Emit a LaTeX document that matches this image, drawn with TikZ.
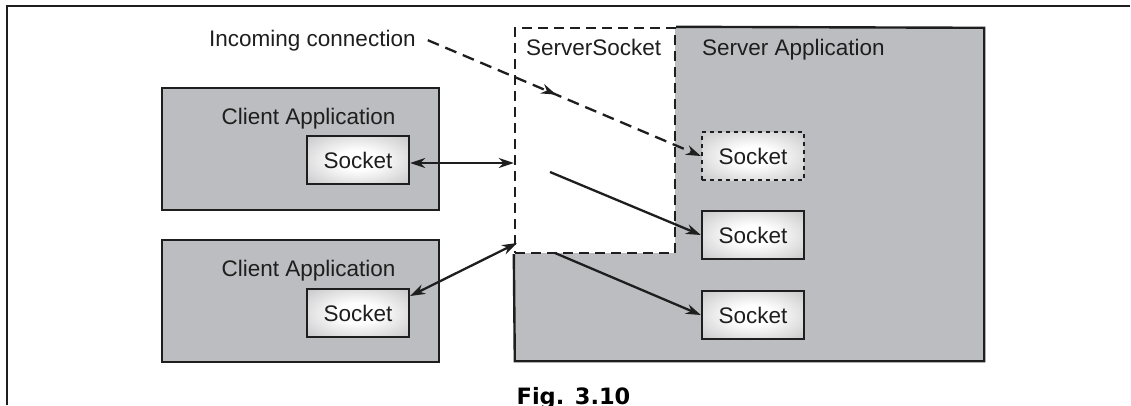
\documentclass[tikz,border=0pt]{standalone}
\usepackage{fontspec}
\setmainfont{Liberation Sans}
\newfontfamily\figfont{DejaVu Sans}
\usetikzlibrary{arrows.meta,decorations.markings}

\definecolor{appgray}{RGB}{188,189,193}
\definecolor{ink}{RGB}{30,30,30}
\definecolor{sockedge}{RGB}{168,168,171}

% soft white-centred glow for the socket boxes
\pgfdeclareradialshading{sockglow}{\pgfpoint{0bp}{0bp}}{%
  color(0bp)=(white); color(10bp)=(white); color(50bp)=(sockedge)}

\tikzset{
  txt/.style={inner sep=0pt, text=ink, font=\fontsize{22.5}{27}\selectfont},
  appbox/.style={draw=ink, line width=2.4pt, fill=appgray, inner sep=0pt},
  sockbox/.style={draw=ink, line width=2.4pt, shading=sockglow,
    minimum width=102pt, minimum height=48pt, inner sep=0pt, text=ink,
    font=\fontsize{22.5}{27}\selectfont},
  sk/.tip={Stealth[length=15pt, width=10pt]},
  conn/.style={draw=ink, line width=2.3pt},
  midarrow/.style={postaction={decorate}, decoration={markings,
    mark=at position #1 with {\arrow[ink]{Stealth[length=15pt, width=10pt]}}}},
}

\begin{document}
\begin{tikzpicture}[x=1pt, y=-1pt]
\useasboundingbox (0,0) rectangle (1131,405);

% page frame: top and left rules
\draw[ink, line width=2pt] (7,405) -- (7,6) -- (1130,6);

% client applications
\node[appbox, minimum width=277pt, minimum height=122pt] (ca1) at (300.5,149) {};
\node[appbox, minimum width=277pt, minimum height=122pt] (ca2) at (300.5,301) {};
\node[txt, anchor=base] (ca1t) at (308.5,124) {Client Application};
\node[txt, anchor=base] (ca2t) at (308.5,276) {Client Application};
\node[sockbox] (cs1) at (358,160) {Socket};
\node[sockbox] (cs2) at (358,313) {Socket};

% server application with the listening ServerSocket region
\node[fill=appgray, minimum width=469pt, minimum height=333pt, inner sep=0pt] (sapp) at (749.5,194.5) {};
\node[fill=white, draw=ink, line width=2.4pt, dash pattern=on 10pt off 6pt,
  minimum width=160pt, minimum height=225pt, inner sep=0pt] (ssock) at (595,140.5) {};
\draw[ink, line width=2.4pt] (ssock.north east) -- (sapp.north east) -- (sapp.south east)
  -- (sapp.south west) -- (ssock.south west);
\node[txt, anchor=base west] (ssockt) at (526,55) {ServerSocket};
\node[txt, anchor=base west] (sappt) at (702,55) {Server Application};

% server-side sockets
\node[sockbox, line width=2.3pt, dash pattern=on 4pt off 4pt] (ss1) at (753,156) {Socket};
\node[sockbox] (ss2) at (753,235) {Socket};
\node[sockbox] (ss3) at (753,315) {Socket};

% incoming connection
\node[txt, anchor=base west] (inc) at (209,46) {Incoming connection};
\draw[conn, dash pattern=on 12pt off 7pt, midarrow=0.47, -sk]
  ([xshift=12pt]inc.east) -- (ss1.west);

% connections
\draw[conn, sk-sk] ([yshift=-3pt]cs1.east) -- ([yshift=-3pt]cs1.east -| ssock.west);
\coordinate (s4) at (517,243);
\draw[conn, sk-sk] (s4) -- ([yshift=17pt]cs2.east);
\coordinate (s2) at (550,172);
\draw[conn, -sk] (s2) -- (ss2.west);
\coordinate (s3) at (555,253);
\draw[conn, -sk] (s3) -- (ss3.west);

% caption
\node[inner sep=0pt, anchor=base, font={\figfont\bfseries\fontsize{22.5}{27}\selectfont}] (fig)
  at (573.5,404) {Fig. 3.10};
\end{tikzpicture}
\end{document}
